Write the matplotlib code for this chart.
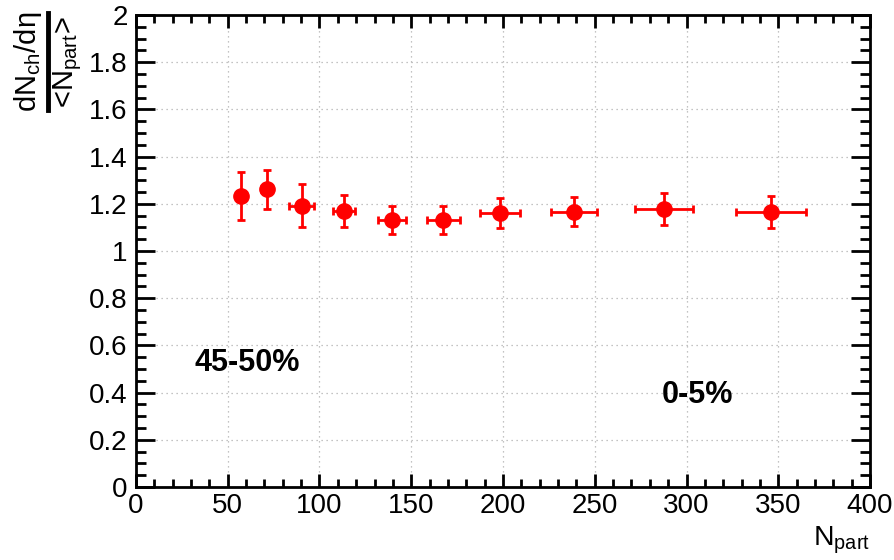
import numpy as np
import matplotlib
matplotlib.use("Agg")
import matplotlib.pyplot as plt
from matplotlib.ticker import MultipleLocator

plt.rcParams['font.family'] = ['Liberation Sans', 'DejaVu Sans']
plt.rcParams['mathtext.fontset'] = 'custom'
plt.rcParams['mathtext.rm'] = 'Liberation Sans'
plt.rcParams['mathtext.it'] = 'Liberation Sans'
plt.rcParams['mathtext.bf'] = 'Liberation Sans:bold'

# centrality bins, most peripheral first
npart = [57.0, 71.2, 90.3, 113.4, 139.3, 167.5, 198.4, 238.7, 287.9, 345.9]
npart_err = [2.5, 3.0, 6.8, 6.0, 7.6, 8.9, 10.9, 12.5, 15.9, 19.0]
dndeta_norm = [1.233, 1.261, 1.192, 1.171, 1.131, 1.131, 1.160, 1.167, 1.177, 1.167]
dndeta_err = [0.100, 0.083, 0.092, 0.068, 0.060, 0.060, 0.064, 0.062, 0.068, 0.068]

fig = plt.figure(figsize=(8.94, 5.6), dpi=100)
ax = fig.add_axes([0.1521, 0.1304, 0.8211, 0.8428])

ax.errorbar(npart, dndeta_norm, xerr=npart_err, yerr=dndeta_err,
            fmt='o', color='#ff0000', markersize=11, elinewidth=2,
            capsize=3, capthick=2, zorder=3)

ax.set_xlim(0, 400)
ax.set_ylim(0, 2)
ax.xaxis.set_major_locator(MultipleLocator(50))
ax.xaxis.set_minor_locator(MultipleLocator(10))
ax.yaxis.set_major_locator(MultipleLocator(0.2))
ax.yaxis.set_minor_locator(MultipleLocator(0.05))
ax.yaxis.set_major_formatter(matplotlib.ticker.FuncFormatter(lambda v, p: ('%g' % round(v, 2))))

ax.grid(True, which='major', linestyle=(0, (1, 3)), color='#b0b0b0', linewidth=0.9)
ax.set_axisbelow(True)

ax.tick_params(axis='both', which='both', direction='in', top=True, right=True,
               width=2, labelsize=20, colors='black')
ax.tick_params(axis='y', which='major', length=14, pad=6)
ax.tick_params(axis='y', which='minor', length=7)
ax.tick_params(axis='x', which='major', length=9.5, pad=4)
ax.tick_params(axis='x', which='minor', length=5.5)
for s in ax.spines.values():
    s.set_linewidth(2)

# x title in the bottom-right corner
fig.text(870 / 894, 1 - 545 / 560, r'N$_{\mathrm{part}}$', ha='right', va='baseline', fontsize=20.5)

# y title as a fraction with a thick bar
fig.text(28 / 894, 1 - 62 / 560, r'dN$_{\mathrm{ch}}$/d$\eta$', rotation=90,
         ha='center', va='center', fontsize=21)
fig.text(68 / 894, 1 - 62 / 560, r'<N$_{\mathrm{part}}$>', rotation=90,
         ha='center', va='center', fontsize=21)
fig.add_artist(plt.Line2D([48 / 894, 48 / 894], [1 - 13 / 560, 1 - 110 / 560],
                          transform=fig.transFigure, color='black', linewidth=3.5))

ax.text(247 / 894, 1 - 363 / 560, '45-50%', transform=fig.transFigure,
        ha='center', va='center', fontsize=22, fontweight='bold')
ax.text(697 / 894, 1 - 395 / 560, '0-5%', transform=fig.transFigure,
        ha='center', va='center', fontsize=22, fontweight='bold')

fig.savefig('out.png', dpi=100)
